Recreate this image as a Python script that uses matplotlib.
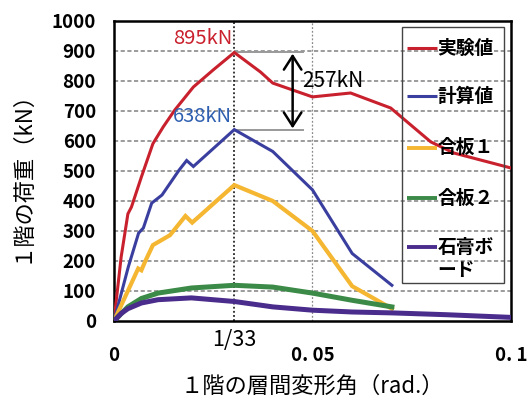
import matplotlib
matplotlib.use("Agg")
import matplotlib.pyplot as plt
from matplotlib.patches import Rectangle

# fonts
JP = ["Noto Sans CJK JP", "DejaVu Sans"]
plt.rcParams["font.family"] = JP

R = 1 / 33

# load - drift data for each series
exp_x = [0, 0.0018, 0.0035, 0.0044, 0.0069, 0.0098, 0.0124, 0.0153, 0.020, 0.025, R,
         0.0369, 0.040, 0.050, 0.0596, 0.0697, 0.0798, 0.0856, 0.100]
exp_y = [0, 213, 357, 380, 480, 591, 647, 703, 780, 837, 895,
         830, 793, 747, 760, 710, 597, 560, 510]

calc_x = [0, 0.0036, 0.0062, 0.0074, 0.0095, 0.0121, 0.0164, 0.0183, 0.020, R,
          0.0400, 0.050, 0.060, 0.070]
calc_y = [0, 180, 293, 310, 393, 420, 503, 535, 515, 638,
          565, 437, 225, 119]

ply1_x = [0, 0.0061, 0.0069, 0.0078, 0.0098, 0.0141, 0.0180, 0.0197, R,
          0.0400, 0.050, 0.060, 0.070]
ply1_y = [0, 175, 169, 197, 253, 286, 350, 328, 453,
          400, 300, 116, 41]

ply2_x = [0, 0.0035, 0.0069, 0.0111, 0.0195, R, 0.0400, 0.050, 0.060, 0.070]
ply2_y = [0, 47, 75, 93, 110, 119, 113, 93, 69, 47]

gyp_x = [0, 0.0018, 0.0035, 0.0069, 0.0111, 0.0195, R, 0.0400, 0.050, 0.060, 0.070, 0.0836, 0.100]
gyp_y = [0, 25, 41, 60, 71, 77, 65, 47, 36, 30, 27, 21, 12]

labels = ["実験値", "計算値", "合板１", "合板２", "石膏ボ\nード"]
colors = ["#c9202d", "#3a3f9f", "#f5b731", "#3b8a47", "#4a2c8c"]
widths = [2.2, 2.2, 3.0, 3.6, 3.6]
series = [(exp_x, exp_y), (calc_x, calc_y), (ply1_x, ply1_y), (ply2_x, ply2_y), (gyp_x, gyp_y)]

y_ticks = list(range(0, 1001, 100))

fig = plt.figure(figsize=(5.27, 4.03), dpi=100)
ax = fig.add_axes([0.2163, 0.2035, 0.9696 - 0.2163, 0.9479 - 0.2035])
ax.set_xlim(0, 0.1)
ax.set_ylim(0, 1000)

# grid
for v in y_ticks[1:-1]:
    ax.axhline(v, color="#8a8a8a", lw=1.2, ls=(0, (2.5, 1.5)), zorder=1)
ax.axvline(0.05, color="#8a8a8a", lw=0.9, ls=(0, (1.5, 1.5)), zorder=1)
ax.axvline(R, color="black", lw=1.1, ls=(0, (1.2, 1.5)), zorder=1)

for (xs, ys), c, w in zip(series, colors, widths):
    ax.plot(xs, ys, color=c, lw=w, solid_joinstyle="miter", zorder=3)

# peak markers
peak_exp = max(exp_y)
peak_calc = max(calc_y)
ax.plot([R, 0.0477], [peak_exp, peak_exp], color="#999999", lw=1.4, zorder=2)
ax.plot([R, 0.0477], [peak_calc, peak_calc], color="#999999", lw=1.4, zorder=2)
ax.text(R - 0.0006, peak_exp + 10, f"{peak_exp}kN", color="#c9202d", fontsize=14.5,
        ha="right", va="bottom")
ax.text(R - 0.0006, peak_calc + 10, f"{peak_calc}kN", color="#2f5fb0", fontsize=14.5,
        ha="right", va="bottom")
ax.annotate("", xy=(0.045, peak_exp - 4), xytext=(0.045, peak_calc + 4),
            arrowprops=dict(arrowstyle="<->,head_length=0.7,head_width=0.45",
                            color="black", lw=1.8, shrinkA=0, shrinkB=0,
                            mutation_scale=14), zorder=4)
ax.text(0.0474, 800, f"{peak_exp - peak_calc}kN", color="black", fontsize=15,
        ha="left", va="center", zorder=4)

# legend drawn by hand
ax.add_patch(Rectangle((0.0725, 127), 0.1 * (504 - 402) / 397, 900 - 127 + 80,
                       fill=False, ec="#444444", lw=1.0, zorder=5))
leg_y = [910, 750, 577, 410, 247]
for lab, c, w, yy in zip(labels, colors, widths, leg_y):
    ax.plot([0.0737, 0.0813], [yy, yy], color=c, lw=min(w, 2.8), zorder=5,
            solid_capstyle="butt")
    if "\n" in lab:
        ax.text(0.0815, yy + 30, lab, fontsize=13.5, fontweight="bold", ha="left",
                va="top", linespacing=1.25, zorder=5)
    else:
        ax.text(0.0815, yy, lab, fontsize=13.5, fontweight="bold", ha="left",
                va="center", zorder=5)

# ticks
ax.tick_params(length=0)
ax.set_yticks(y_ticks)
ax.set_yticklabels([str(v) for v in y_ticks], fontsize=13.5, fontweight="bold")
ax.tick_params(axis="y", pad=13)
ax.set_xticks([0, 0.05, 0.1])
ax.set_xticklabels(["0", "0. 05", "0. 1"], fontsize=13.5, fontweight="bold")
ax.tick_params(axis="x", pad=18)
ax.text(R, -64, "1/33", fontsize=15.5, ha="center", va="center")

for s in ax.spines.values():
    s.set_color("black")
    s.set_linewidth(1.8)

ax.set_xlabel("１階の層間変形角（rad.）", fontsize=16, labelpad=7)
ax.set_ylabel("１階の荷重（kN）", fontsize=16, labelpad=14)

fig.savefig("out.png", dpi=100)
